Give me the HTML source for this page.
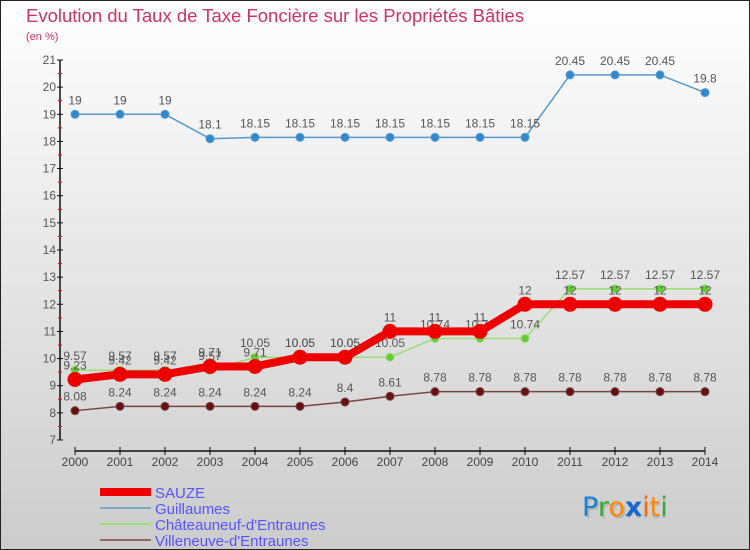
<!DOCTYPE html>
<html><head><meta charset="utf-8"><style>
body{margin:0}
#wrap{width:750px;height:550px;position:relative;overflow:hidden}
</style></head><body>
<div id="wrap">
<svg id="chart" width="750" height="550" xmlns="http://www.w3.org/2000/svg" font-family="Liberation Sans, sans-serif">
<defs><linearGradient id="bg" x1="0" y1="0" x2="0" y2="1"><stop offset="0" stop-color="#ffffff"/><stop offset="1" stop-color="#cccccc"/></linearGradient></defs>
<rect x="0.5" y="0.5" width="749" height="549" fill="url(#bg)" stroke="#222" stroke-width="1"/>
<text x="26" y="22" font-size="18.5" fill="#cc3366">Evolution du Taux de Taxe Foncière sur les Propriétés Bâties</text>
<text x="26" y="40" font-size="11" fill="#cc3366">(en %)</text>
<g id="axes"></g><g id="series"></g>
<g>
<line x1="100" y1="492" x2="151" y2="492" stroke="#ee0000" stroke-width="8"/>
<text x="155" y="498" font-size="15" fill="#5555ff">SAUZE</text>
<line x1="100" y1="508" x2="151" y2="508" stroke="#7aaacc" stroke-width="2"/>
<text x="155" y="514" font-size="15" fill="#5555ff">Guillaumes</text>
<line x1="100" y1="524" x2="151" y2="524" stroke="#99dd77" stroke-width="2"/>
<text x="155" y="530" font-size="15" fill="#5555ff">Châteauneuf-d'Entraunes</text>
<line x1="100" y1="540" x2="151" y2="540" stroke="#996666" stroke-width="2"/>
<text x="155" y="546" font-size="15" fill="#5555ff">Villeneuve-d'Entraunes</text>
</g>
<g font-size="27" font-family="DejaVu Sans, sans-serif">
<text x="584" y="518" fill="#999" opacity="0.5">Proxiti</text>
<text x="582" y="516"><tspan fill="#1a7fd0">P</tspan><tspan fill="#33aa33">r</tspan><tspan fill="#ff8800">o</tspan><tspan fill="#1a66cc" font-weight="bold">x</tspan><tspan fill="#ff6600">i</tspan><tspan fill="#ff8800">t</tspan><tspan fill="#33aa33">i</tspan></text>
</g>
</svg>
<script>
const years=["2000","2001","2002","2003","2004","2005","2006","2007","2008","2009","2010","2011","2012","2013","2014"];
const sauze=[9.23,9.42,9.42,9.71,9.71,10.05,10.05,11,11,11,12,12,12,12,12];
const guillaumes=[19,19,19,18.1,18.15,18.15,18.15,18.15,18.15,18.15,18.15,20.45,20.45,20.45,19.8];
const chateauneuf=[9.57,9.57,9.57,9.57,10.05,10.05,10.05,10.05,10.74,10.74,10.74,12.57,12.57,12.57,12.57];
const villeneuve=[8.08,8.24,8.24,8.24,8.24,8.24,8.4,8.61,8.78,8.78,8.78,8.78,8.78,8.78,8.78];
const yTicks=[7,8,9,10,11,12,13,14,15,16,17,18,19,20,21];
const NS="http://www.w3.org/2000/svg";
const x=i=>75+i*45;
const y=v=>60+(21-v)*(380/14);
function mk(tag,attrs,parent){const e=document.createElementNS(NS,tag);for(const k in attrs)e.setAttribute(k,attrs[k]);parent.appendChild(e);return e;}
const ax=document.getElementById('axes');
let yl=mk('line',{x1:60,y1:y(21),x2:60,y2:y(7),stroke:'#111','stroke-width':1.5},ax);


yTicks.forEach(t=>{
 mk('line',{x1:57,y1:y(t),x2:63,y2:y(t),stroke:'#111'},ax);
 if(t<21)mk('line',{x1:58,y1:y(t+0.5),x2:62,y2:y(t+0.5),stroke:'#e00'},ax);
 const tx=mk('text',{x:56,y:y(t)+4,'font-size':12,fill:'#555','text-anchor':'end'},ax);tx.textContent=t;
 
 
});
let xl=mk('line',{x1:x(0),y1:451,x2:x(14),y2:451,stroke:'#111','stroke-width':1.5},ax);


years.forEach((yr,i)=>{
 mk('line',{x1:x(i),y1:447,x2:x(i),y2:455,stroke:'#111'},ax);
 const tx=mk('text',{x:x(i),y:466,'font-size':12,fill:'#444','text-anchor':'middle'},ax);tx.textContent=yr;
 
 
});
const sg=document.getElementById('series');
function series(name,data,color,w,r,dot,lblColor){
 const g=mk('g',{},sg);
 
 
 mk('polyline',{points:data.map((v,i)=>x(i)+','+y(v)).join(' '),fill:'none',stroke:color,'stroke-width':w,'stroke-linejoin':'round'},g);
 data.forEach((v,i)=>{
  const c=mk('circle',{cx:x(i),cy:y(v),r:r,fill:dot,stroke:color,'stroke-width':1},g);
  
  
  const t=mk('text',{x:x(i),y:y(v)-10,'font-size':12,fill:lblColor,'text-anchor':'middle'},g);t.textContent=v;
  
  
 });
}
series('villeneuve',villeneuve,'#774444',1.5,4,'#661111','#555');
series('chateauneuf',chateauneuf,'#99dd77',1.5,4,'#66cc33','#555');
series('sauze',sauze,'#ee0000',8,7,'#ee0000','#555');
series('guillaumes',guillaumes,'#5599cc',1.5,4,'#3388cc','#555');
</script>
</div>
</body></html>
